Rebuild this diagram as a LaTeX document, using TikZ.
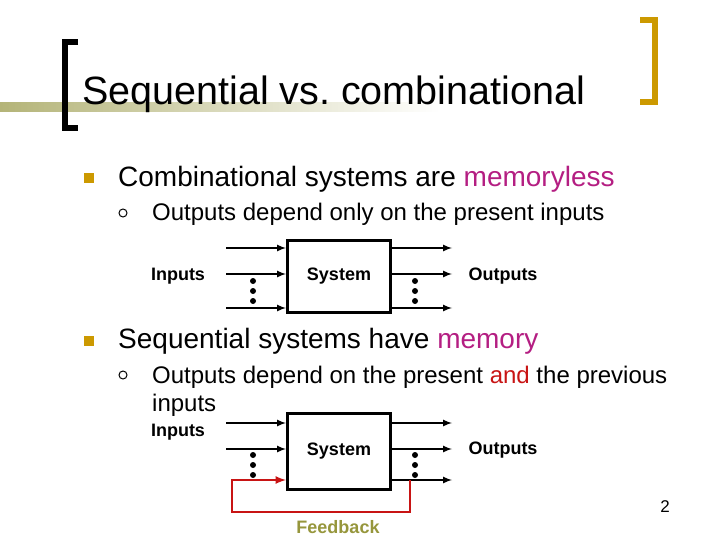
\documentclass[tikz,border=0pt]{standalone}
\usepackage{fontspec}
\setmainfont{Liberation Sans}
\usetikzlibrary{positioning,calc}
\definecolor{gold}{RGB}{204,153,0}
\definecolor{olive}{RGB}{180,180,120}
\definecolor{fbtext}{RGB}{150,150,60}
\definecolor{mag}{RGB}{180,30,130}
\definecolor{dred}{RGB}{200,20,20}
\tikzset{
	sig/.style={line width=2pt,-latex},
	blk/.style={draw,line width=3pt,minimum width=103pt,inner sep=0pt,font=\bfseries\fontsize{18}{20}\selectfont},
	lbl/.style={font=\bfseries\fontsize{18}{20}\selectfont,inner sep=0pt},
	dot/.style={circle,fill,inner sep=0pt,minimum size=6pt},
	sq/.style={fill=gold,minimum size=10pt,inner sep=0pt},
	ring/.style={circle,draw,line width=1pt,minimum size=8pt,inner sep=0pt}
}
\begin{document}
\frenchspacing
\begin{tikzpicture}[x=1pt,y=-1pt]
	\useasboundingbox (0,0) rectangle (720,540);
	
	%Titre
	\shade[left color=olive,right color=white] (0,103) rectangle (440,112);
	\draw[line width=6pt] (78,42) -- (65,42) -- (65,128) -- (78,128);
	\draw[gold,line width=6pt] (640,20) -- (655,20) -- (655,102) -- (640,102);
	\node[anchor=base west,inner sep=0pt,font=\fontsize{39.5}{44}\selectfont] (titre) at (82,105) {Sequential vs. combinational};
	
	%Combinatoire
	\node[sq] (b1) at (89,178) {};
	\node[anchor=base west,inner sep=0pt,font=\fontsize{28}{32}\selectfont] (t1) at (118,187) {Combinational systems are \textcolor{mag}{memoryless}};
	\node[ring] (c1) at (123,213) {};
	\node[anchor=base west,inner sep=0pt,font=\fontsize{24}{28}\selectfont] (s1) at (152,221) {Outputs depend only on the present inputs};
	
	\node[blk,minimum height=72pt] (sysA) at (339,276) {System};
	\node[lbl] (inA) at (178,276) {Inputs};
	\node[lbl] (outA) at (503,276) {Outputs};
	\foreach \y/\n in {248/1,274/2,308/3}{
		\coordinate (ia\n) at (226,\y);
		\coordinate (oa\n) at (452,\y);
		\draw[sig] (ia\n) -- (ia\n -| sysA.west);
		\draw[sig] (ia\n -| sysA.east) -- (oa\n);
	}
	\foreach \y in {281,291,301}{
		\node[dot] at (253,\y) {};
		\node[dot] at (415,\y) {};
	}
	
	%Sequentiel
	\node[sq] (b2) at (89,341) {};
	\node[anchor=base west,inner sep=0pt,font=\fontsize{28}{32}\selectfont] (t2) at (118,348) {Sequential systems have \textcolor{mag}{memory}};
	\node[ring] (c2) at (123,375) {};
	\node[anchor=base west,inner sep=0pt,font=\fontsize{24}{28}\selectfont] (s2) at (152,383) {Outputs depend on the present \textcolor{dred}{and} the previous};
	\node[anchor=base west,inner sep=0pt,font=\fontsize{24}{28}\selectfont] (s3) at (152,411) {inputs};
	
	\node[blk,minimum height=76pt] (sysB) at (339,451) {System};
	\node[lbl] (inB) at (178,432) {Inputs};
	\node[lbl] (outB) at (503,450) {Outputs};
	\foreach \y/\n in {423/1,449/2,480/3}{
		\coordinate (ib\n) at (226,\y);
		\coordinate (ob\n) at (452,\y);
		\draw[sig] (ib\n -| sysB.east) -- (ob\n);
	}
	\draw[sig] (ib1) -- (ib1 -| sysB.west);
	\draw[sig] (ib2) -- (ib2 -| sysB.west);
	\foreach \y in {455,465,475}{
		\node[dot] at (253,\y) {};
		\node[dot] at (415,\y) {};
	}
	
	%Retour
	\coordinate (fa) at (410,480);
	\coordinate (fb) at (232,480);
	\draw[dred,line width=2.5pt,-latex] (fa) -- (410,512) -- (232,512) -- (fb) -- (fb -| sysB.west);
	\node[lbl,text=fbtext] (fbl) at (338,527) {Feedback};
	
	\node[font=\fontsize{17}{20}\selectfont,inner sep=0pt] (num) at (665,507) {2};
\end{tikzpicture}
\end{document}
